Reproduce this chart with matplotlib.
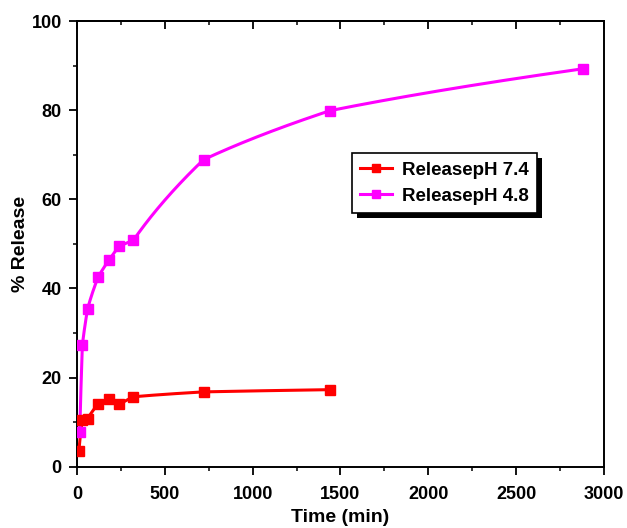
import matplotlib.pyplot as plt
import numpy as np
from matplotlib.patches import Rectangle

plt.rcParams['font.family'] = ['Liberation Sans', 'DejaVu Sans']

# release data (time in min, % release)
time_74 = [10, 30, 60, 120, 180, 240, 320, 720, 1440]
release_74 = [3.5, 10.6, 10.8, 14.1, 15.3, 14.0, 15.7, 16.8, 17.3]

time_48 = [15, 30, 60, 120, 180, 240, 320, 720, 1440, 2880]
release_48 = [7.8, 27.4, 35.5, 42.6, 46.3, 49.5, 50.8, 68.9, 79.9, 89.3]

labels = ["ReleasepH 7.4", "ReleasepH 4.8"]
colors = ["#ff0000", "#ff00ff"]


def smooth_line(t, r, n=800):
    # connect the points linearly in sqrt(time), which bends each segment
    # like diffusion-controlled release when drawn on a linear time axis
    u = np.sqrt(np.asarray(t, float))
    us = np.linspace(u[0], u[-1], n)
    return us**2, np.interp(us, u, r)


fig = plt.figure(figsize=(6.27, 5.28), dpi=100)
ax = fig.add_axes([0.123, 0.116, 0.840, 0.844])

handles = []
for tx, ry, c, lab in [(time_74, release_74, colors[0], labels[0]),
                       (time_48, release_48, colors[1], labels[1])]:
    xs, ys = smooth_line(tx, ry)
    ax.plot(xs, ys, color=c, lw=2.2, zorder=3)
    ax.plot(tx, ry, 's', color=c, ms=7, zorder=4)
    h, = ax.plot([], [], '-s', color=c, lw=2.2, ms=6, label=lab)
    handles.append(h)

ax.set_xlim(0, 3000)
ax.set_ylim(0, 100)
ax.set_xticks(np.arange(0, 3001, 500))
ax.set_xticks(np.arange(0, 3001, 250), minor=True)
ax.set_yticks(np.arange(0, 101, 20))
ax.set_yticks(np.arange(0, 101, 10), minor=True)
ax.tick_params(which='major', direction='out', length=6, width=1.3, labelsize=13)
ax.tick_params(axis='x', which='major', pad=8)
ax.tick_params(axis='y', which='major', pad=5)
ax.tick_params(which='minor', direction='out', length=3, width=1.1)
for lab in ax.get_xticklabels() + ax.get_yticklabels():
    lab.set_fontweight('bold')

for s in ax.spines.values():
    s.set_linewidth(1.4)

# top axis with inward ticks, no labels
top = ax.secondary_xaxis('top')
top.set_xticks(np.arange(0, 3001, 500))
top.set_xticks(np.arange(0, 3001, 250), minor=True)
top.tick_params(which='major', direction='in', length=6, width=1.3, labeltop=False)
top.tick_params(which='minor', direction='in', length=3, width=1.1)
top.spines['top'].set_linewidth(1.4)

ax.set_xlabel("Time (min)", fontsize=14, fontweight='bold', labelpad=4)
ax.set_ylabel("% Release", fontsize=14, fontweight='bold', labelpad=2)

leg = ax.legend(handles=handles, loc='upper left', bbox_to_anchor=(0.522, 0.703),
                borderaxespad=0, frameon=True, fancybox=False, framealpha=1,
                handlelength=1.7, handletextpad=0.5, borderpad=0.45, labelspacing=0.45,
                prop={'weight': 'bold', 'size': 13.5})
leg.get_frame().set_edgecolor('black')
leg.get_frame().set_facecolor('white')
leg.get_frame().set_linewidth(1.2)
leg.set_zorder(6)

# solid drop shadow behind the legend box
fig.canvas.draw()
bb = leg.get_window_extent().transformed(ax.transAxes.inverted())
off_x = 5 / (ax.bbox.width)
off_y = 5 / (ax.bbox.height)
ax.add_patch(Rectangle((bb.x0 + off_x, bb.y0 - off_y), bb.width, bb.height,
                       transform=ax.transAxes, facecolor='black', edgecolor='none',
                       zorder=5, clip_on=False))

fig.savefig("out.png", dpi=100)
